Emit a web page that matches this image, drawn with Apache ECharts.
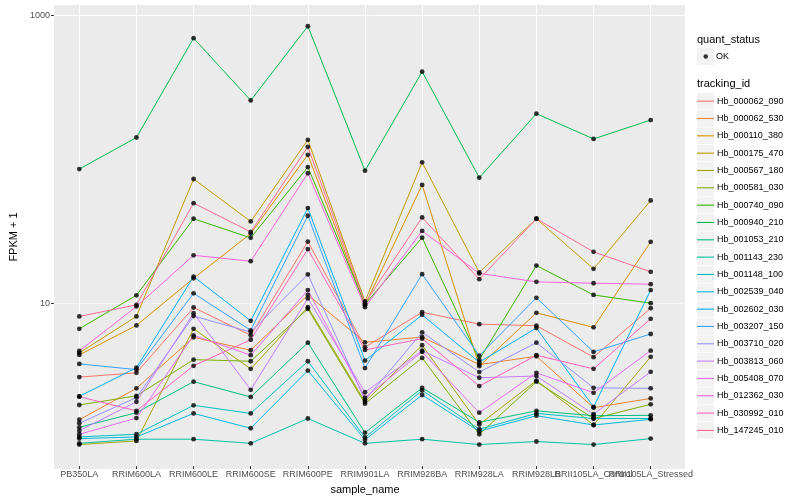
<!DOCTYPE html>
<html>
<head>
<meta charset="utf-8">
<script src="https://cdn.jsdelivr.net/npm/echarts@6/dist/echarts.min.js"></script>
<style>html,body{margin:0;padding:0;background:#fff}#c{width:800px;height:500px}</style>
</head>
<body>
<div id="c"></div>
<script>
const categories = ["PB350LA","RRIM600LA","RRIM600LE","RRIM600SE","RRIM600PE","RRIM901LA","RRIM928BA","RRIM928LA","RRIM928LB","RRII105LA_Control","RRII105LA_Stressed"];
const trackingIds = ["Hb_000062_090","Hb_000062_530","Hb_000110_380","Hb_000175_470","Hb_000567_180","Hb_000581_030","Hb_000740_090","Hb_000940_210","Hb_001053_210","Hb_001143_230","Hb_001148_100","Hb_002539_040","Hb_002602_030","Hb_003207_150","Hb_003710_020","Hb_003813_060","Hb_005408_070","Hb_012362_030","Hb_030992_010","Hb_147245_010"];
const yTickLabels = [10, 1000];

// FPKM + 1 values per tracking id, in category order
const hb_000062_090 = [2.96, 3.17, 9.07, 5.80, 26.2, 4.79, 8.41, 6.94, 6.76, 4.08, 8.97];
const hb_000062_530 = [1.49, 2.47, 5.61, 4.56, 11.1, 5.18, 5.64, 3.62, 4.14, 1.81, 2.10];
const hb_000110_380 = [4.23, 6.80, 14.5, 29.8, 105.8, 9.41, 65.2, 3.53, 8.32, 6.59, 26.1];
const hb_000175_470 = [4.37, 7.86, 71.7, 36.2, 134.5, 10.0, 93.7, 15.95, 37.8, 16.9, 50.7];
const hb_000567_180 = [1.00, 1.06, 6.44, 3.38, 9.11, 1.99, 4.94, 1.38, 2.80, 1.37, 4.10];
const hb_000581_030 = [1.89, 2.19, 3.92, 3.82, 8.87, 1.93, 4.03, 1.18, 2.75, 1.52, 1.91];
const hb_000740_090 = [6.44, 11.04, 37.8, 27.8, 86.9, 9.56, 27.9, 3.91, 17.8, 11.1, 9.72];
const hb_000940_210 = [84.1, 139.7, 691, 253.6, 837, 81.9, 403, 73.2, 205, 136.6, 185];
const hb_001053_210 = [1.32, 1.67, 2.75, 2.15, 5.15, 1.21, 2.49, 1.43, 1.72, 1.59, 1.60];
const hb_001143_230 = [1.02, 1.09, 1.09, 1.02, 1.52, 1.02, 1.09, 1.00, 1.05, 1.00, 1.10];
const hb_001148_100 = [1.13, 1.18, 1.88, 1.65, 3.82, 1.12, 2.39, 1.28, 1.65, 1.52, 1.52];
const hb_002539_040 = [1.10, 1.13, 1.65, 1.30, 3.29, 1.08, 2.22, 1.24, 1.59, 1.37, 1.50];
const hb_002602_030 = [2.17, 3.44, 14.9, 7.32, 44.9, 3.86, 8.06, 3.76, 6.52, 1.83, 12.0];
const hb_003207_150 = [3.66, 3.34, 11.4, 6.28, 39.7, 3.42, 15.5, 4.18, 10.6, 4.44, 5.92];
const hb_003710_020 = [1.41, 2.13, 7.9, 6.11, 15.45, 2.05, 6.08, 3.21, 5.15, 2.49, 2.47];
const hb_003813_060 = [1.25, 1.99, 8.28, 2.41, 10.5, 2.32, 4.53, 2.93, 3.01, 1.63, 3.22];
const hb_005408_070 = [1.18, 1.53, 5.80, 4.21, 12.0, 2.13, 4.44, 1.67, 3.17, 2.30, 4.53];
const hb_012362_030 = [4.51, 9.22, 21.0, 19.1, 78.6, 9.11, 31.1, 15.7, 13.7, 13.4, 13.2];
const hb_030992_010 = [2.16, 1.72, 3.55, 5.40, 23.2, 4.58, 5.49, 2.56, 4.21, 3.38, 7.56];
const hb_147245_010 = [7.86, 9.46, 48.6, 30.6, 120.2, 9.72, 38.6, 14.3, 37.8, 22.2, 16.1];

const seriesValues = [hb_000062_090, hb_000062_530, hb_000110_380, hb_000175_470, hb_000567_180, hb_000581_030, hb_000740_090, hb_000940_210, hb_001053_210, hb_001143_230, hb_001148_100, hb_002539_040, hb_002602_030, hb_003207_150, hb_003710_020, hb_003813_060, hb_005408_070, hb_012362_030, hb_030992_010, hb_147245_010];

const palette = ["#F8766D","#EA8331","#D89000","#C09B00","#A3A500","#7CAE00","#39B600","#00BB4E","#00BF7D","#00C1A3","#00BFC4","#00BAE0","#00B0F6","#35A2FF","#9590FF","#C77CFF","#E76BF3","#FA62DB","#FF62BC","#FF6C90"];
const FONT = "'Liberation Sans', Arial, Helvetica, sans-serif";
const Y_MIN = 0.707, Y_MAX = 1178;
const KEY_STEP = 17.33;

const chart = echarts.init(document.getElementById('c'), null, {renderer: 'canvas'});

const lineSeries = trackingIds.map((id, k) => ({
  name: id,
  type: 'line',
  xAxisIndex: 1,
  yAxisIndex: 1,
  data: seriesValues[k],
  symbol: 'none',
  color: palette[k],
  itemStyle: {color: palette[k]},
  lineStyle: {width: 1, color: palette[k]},
  z: 2,
  silent: true
}));

const okPoints = [];
seriesValues.forEach(vals => vals.forEach((v, i) => okPoints.push([categories[i], v])));

const keyRects = [{type: 'rect', shape: {x: 697, y: 48, width: 17, height: 17}, style: {fill: '#F2F2F2'}, z: -1}];
trackingIds.forEach((id, i) => {
  keyRects.push({type: 'rect', shape: {x: 697, y: 92.8 + i * KEY_STEP, width: 17, height: 16.5}, style: {fill: '#F2F2F2'}, z: -1});
});

chart.setOption({
  animation: false,
  backgroundColor: '#FFFFFF',
  textStyle: {fontFamily: FONT},
  title: [
    {text: 'quant_status', left: 697, top: 34.5, padding: 0, textStyle: {fontSize: 11, fontWeight: 'normal', color: '#000', fontFamily: FONT}},
    {text: 'tracking_id', left: 697, top: 78.5, padding: 0, textStyle: {fontSize: 11, fontWeight: 'normal', color: '#000', fontFamily: FONT}}
  ],
  graphic: keyRects,
  grid: [
    {left: 45, right: 115, top: 5, bottom: 31, show: true, backgroundColor: '#EBEBEB', borderWidth: 0},
    {left: 79.3, right: 149.3, top: 5, bottom: 31}
  ],
  xAxis: [
    {gridIndex: 0, type: 'value', min: 0, max: 1, show: false},
    {gridIndex: 1, type: 'category', data: categories, boundaryGap: false,
     axisLine: {show: false},
     axisTick: {show: true, interval: 0, length: 3, lineStyle: {color: '#333333', width: 1}},
     axisLabel: {interval: 0, fontSize: 9, color: '#4D4D4D', margin: 4, fontFamily: FONT},
     splitLine: {show: true, interval: 0, lineStyle: {color: '#FFFFFF', width: 1}},
     name: 'sample_name', nameLocation: 'middle', nameGap: 16,
     nameTextStyle: {fontSize: 11, color: '#000', fontFamily: FONT}}
  ],
  yAxis: [
    {gridIndex: 0, type: 'log', logBase: 10, min: Y_MIN, max: Y_MAX,
     axisLine: {show: false},
     axisTick: {show: true, length: 3, lineStyle: {color: '#333333', width: 1}, customValues: yTickLabels},
     axisLabel: {fontSize: 9, color: '#4D4D4D', margin: 4, fontFamily: FONT, customValues: yTickLabels,
       formatter: v => { const r = Math.round(v); return (yTickLabels.indexOf(r) >= 0) ? String(r) : ''; }},
     splitLine: {show: true, lineStyle: {color: ['#F6F6F6', '#FFFFFF'], width: 1}},
     name: 'FPKM + 1', nameLocation: 'middle', nameGap: 32,
     nameTextStyle: {fontSize: 11, color: '#000', fontFamily: FONT}},
    {gridIndex: 1, type: 'log', logBase: 10, min: Y_MIN, max: Y_MAX, show: false}
  ],
  legend: [
    {data: [{name: 'OK', icon: 'circle'}], orient: 'vertical', left: 703.5, top: 48, padding: 0,
     itemWidth: 4.5, itemHeight: 4.5, itemGap: 0,
     textStyle: {fontSize: 9, lineHeight: 17, color: '#000', fontFamily: FONT, padding: [0, 0, 0, 3]}, selectedMode: false},
    {data: trackingIds.map(id => ({name: id, icon: 'rect'})), orient: 'vertical', left: 697, top: 92.5, padding: 0,
     itemWidth: 17, itemHeight: 1.1, itemGap: 0,
     textStyle: {fontSize: 9, lineHeight: KEY_STEP, color: '#000', fontFamily: FONT, padding: [0, 0, 0, -2]}, selectedMode: false}
  ],
  series: lineSeries.concat([{
    name: 'OK', type: 'scatter', xAxisIndex: 1, yAxisIndex: 1,
    data: okPoints, symbol: 'circle', symbolSize: 4.8,
    itemStyle: {color: '#000000'}, z: 3, silent: true
  }])
});
</script>
</body>
</html>
